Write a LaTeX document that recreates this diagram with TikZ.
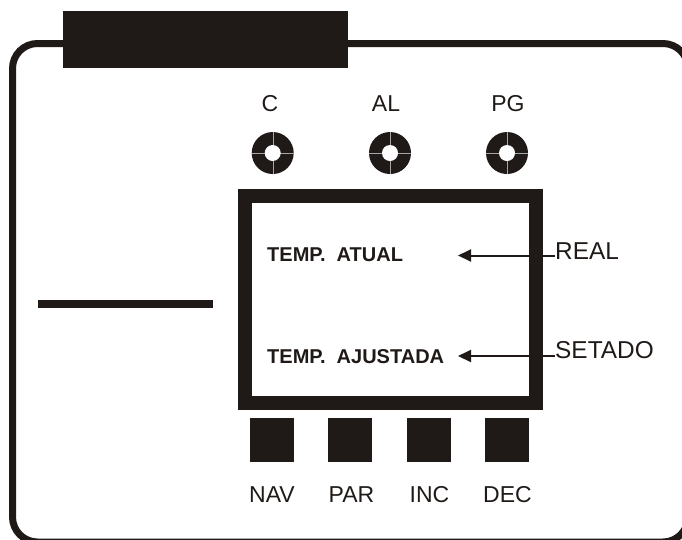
\documentclass[tikz,border=0pt]{standalone}
\usepackage{fontspec}
\setmainfont{Liberation Sans}
\usetikzlibrary{arrows.meta}
\definecolor{ink}{HTML}{1F1A17}
\tikzset{
  lbl/.style={inner sep=0pt, anchor=base, text=ink, font=\fontsize{23}{27}\selectfont},
  side/.style={inner sep=0pt, anchor=base west, text=ink, font=\fontsize{24.4}{28}\selectfont},
  lcd/.style={inner sep=0pt, anchor=base west, text=ink, font=\fontsize{20}{24}\selectfont\bfseries},
  btn/.style={fill=ink, draw=none, minimum size=44pt, inner sep=0pt},
  led/.style={circle, fill=ink, draw=none, minimum size=42pt, inner sep=0pt},
  hole/.style={circle, fill=white, draw=none, minimum size=16pt, inner sep=0pt},
  ptr/.style={draw=ink, line width=2pt, -{Triangle[length=13pt,width=12pt]}},
}
\begin{document}
\begin{tikzpicture}[x=1pt,y=-1pt]
\useasboundingbox (0,0) rectangle (682,539);
\clip (0,0) rectangle (682,539);
% outer housing
\draw[ink, line width=7pt, rounded corners=25pt] (12.5,43.5) rectangle (688,542);
\fill[ink] (63,11) rectangle (348,68);
% left bar
\fill[ink] (38,300) rectangle (213,308);
% indicator labels and lamps
\node[lbl] (lc) at (270,111) {C};
\node[lbl] (lal) at (386,111) {AL};
\node[lbl] (lpg) at (508,111) {PG};
\foreach \n/\x in {c/272.7,al/390,pg/507}{
  \node[led] (led\n) at (\x,153) {};
  \draw[gray!70, line width=0.4pt] (led\n.west) -- (led\n.east) (led\n.north) -- (led\n.south);
  \node[hole] (hole\n) at (led\n) {};
}
% display
\draw[ink, line width=14pt] (244.5,195.5) rectangle (535.5,402.5);
\node[lcd] (atual) at (267,261) {TEMP.\hspace{0.55em}ATUAL};
\node[lcd] (ajust) at (267,363) {TEMP.\hspace{0.55em}AJUSTADA};
\node[side] (real) at (555,259) {REAL};
\node[side] (setado) at (555,358) {SETADO};
\coordinate (t1) at (458,255.5);
\coordinate (t2) at (458,356);
\draw[ptr] ([yshift=3.5pt]real.base west) -- (t1);
\draw[ptr] ([yshift=2pt]setado.base west) -- (t2);
% buttons
\node[btn] (bnav) at (272,440) {};
\node[btn] (bpar) at (350,440) {};
\node[btn] (binc) at (428.5,440) {};
\node[btn] (bdec) at (506.5,440) {};
\node[lbl] (nav) at (272,502) {NAV};
\node[lbl] (par) at (351.5,502) {PAR};
\node[lbl] (inc) at (429.5,502) {INC};
\node[lbl] (dec) at (507.5,502) {DEC};
\end{tikzpicture}
\end{document}
